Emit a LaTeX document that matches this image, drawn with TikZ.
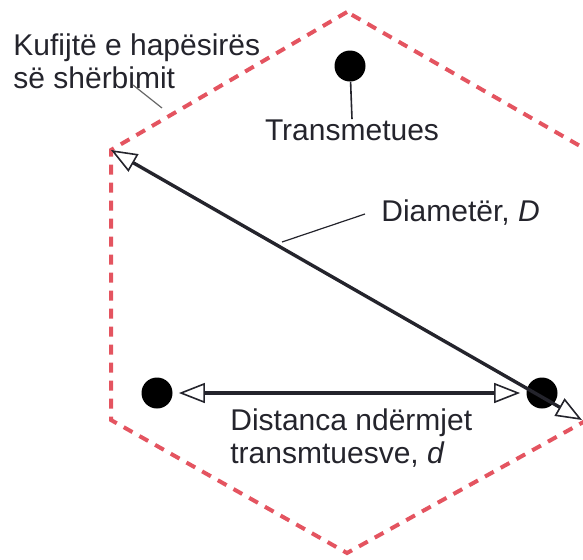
\documentclass[tikz,border=0pt]{standalone}
\usepackage{fontspec}
\setmainfont{Liberation Sans}
\usepackage{tikz}
\usetikzlibrary{positioning,arrows.meta,calc}
\definecolor{cellred}{RGB}{228,84,96}
\definecolor{ink}{RGB}{36,36,44}

\begin{document}
\begin{tikzpicture}[x=0.5pt,y=-0.5pt,
  font=\fontsize{15}{16.5}\selectfont,
  cell/.style={cellred,line width=2pt,dash pattern=on 5pt off 4pt},
  txdot/.style={circle,fill=black,inner sep=0pt,minimum size=15.5pt},
  lbl/.style={text=ink,inner sep=0pt,align=left},
  lead/.style={gray!80!black,line width=0.6pt},
  span/.style={ink,line width=1.7pt,
    {Triangle[open,length=13pt,width=10pt,line width=0.8pt]}-{Triangle[open,length=13pt,width=10pt,line width=0.8pt]}}]
\useasboundingbox (0,0) rectangle (583,559);
% hexagonal service area
\coordinate (h1) at (347,12);
\coordinate (h2) at (111,150);
\coordinate (h3) at (111,420);
\coordinate (h4) at (347,553);
\coordinate (h5) at (587,420);
\coordinate (h6) at (587,150);
\draw[cell] (h1) -- (h2) -- (h3) -- (h4) -- (h5) -- (h6) -- cycle;

% transmitters
\node[txdot] (tx) at (350,66) {};
\node[txdot] (txa) at (157,393) {};
\node[txdot] (txb) at (542,393) {};

% diameter and distance
\coordinate (dend) at (582,420);
\draw[span] (h2) -- (dend);
\draw[span,shorten <=3pt,shorten >=3pt] (txa) -- (txb);

% labels
\node[lbl] (ltx) at (352,130) {Transmetues};
\draw[lead,ink,line width=0.8pt] (tx) -- (ltx.north);
\node[lbl,anchor=north west] (lcell) at (13,33) {Kufijtë e hapësirës\\së shërbimit};
\coordinate (pcell) at (162,108);
\draw[lead] (133,85) -- (pcell);
\node[lbl,anchor=west] (ldiam) at (381,213) {Diametër, \textit{D}};
\coordinate (pdiam) at (282,242);
\draw[lead,ink] (pdiam) -- ($(ldiam.west)+(-16,1)$);
\node[lbl,anchor=north west] (ldist) at (230,408) {Distanca ndërmjet\\transmtuesve, \textit{d}};
\end{tikzpicture}
\end{document}
